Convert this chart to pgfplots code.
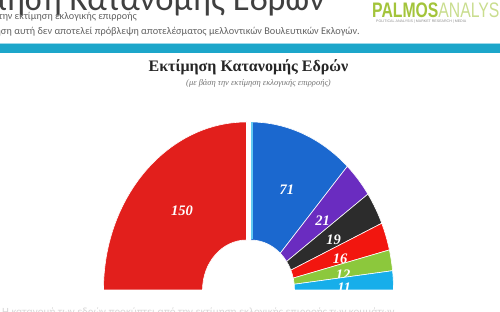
\documentclass[border=0pt]{standalone}
\usepackage{pgfplots}
\pgfplotsset{compat=1.18}
\usepackage{pgfplotstable}
\usepackage{graphicx}
\usepackage{fontspec}
\setmainfont{Liberation Serif}
\newfontfamily\hdr{Carlito}
\newfontfamily\logo{Liberation Sans}
\definecolor{c0}{HTML}{E21F1C}
\definecolor{c1}{HTML}{1B68CF}
\definecolor{c2}{HTML}{6A2CC0}
\definecolor{c3}{HTML}{2C2C2C}
\definecolor{c4}{HTML}{F2160F}
\definecolor{c5}{HTML}{8CC83C}
\definecolor{c6}{HTML}{17AEEA}
\definecolor{band}{HTML}{1CA6CA}
\definecolor{bandlight}{HTML}{9ED9EA}
\definecolor{logogreen}{HTML}{A3C43B}
\definecolor{logolight}{HTML}{C9DD8E}
\definecolor{edgecyan}{HTML}{62C9F2}
\pgfplotstableread{
seats
150
71
21
19
16
12
11
}\seattable
\begin{document}
\begin{tikzpicture}[x=1pt,y=1pt]
\useasboundingbox (0,0) rectangle (500,312);
\clip (0,0) rectangle (500,312);
% total seats
\def\total{0}
\pgfplotsforeachungrouped \i in {0,...,6}{%
  \pgfplotstablegetelem{\i}{seats}\of\seattable
  \pgfmathsetmacro\total{\total+\pgfplotsretval}%
}
\def\cum{0}
\pgfplotsforeachungrouped \i in {0,...,6}{%
  \pgfplotstablegetelem{\i}{seats}\of\seattable
  \let\v\pgfplotsretval
  \ifnum\i=0 \def\cx{246.5}\else\def\cx{250.5}\fi
  \pgfmathsetmacro\a{180-\cum/\total*180}%
  \pgfmathsetmacro\b{180-(\cum+\v)/\total*180}%
  \pgfmathsetmacro\m{(\a+\b)/2-1.5}%
  \pgfmathsetmacro\ox{\cx+143*cos(\a)}%
  \pgfmathsetmacro\oy{22+168*sin(\a)}%
  \pgfmathsetmacro\ix{\cx+44*cos(\b)}%
  \pgfmathsetmacro\iy{22+50*sin(\b)}%
  \pgfmathsetmacro\lx{\cx+0.655*143*cos(\m)}%
  \pgfmathsetmacro\ly{22+0.655*168*sin(\m)-1}%
  \expandafter\xdef\csname sa\i\endcsname{\a}%
  \expandafter\xdef\csname sb\i\endcsname{\b}%
  \expandafter\xdef\csname ox\i\endcsname{\ox}%
  \expandafter\xdef\csname oy\i\endcsname{\oy}%
  \expandafter\xdef\csname ix\i\endcsname{\ix}%
  \expandafter\xdef\csname iy\i\endcsname{\iy}%
  \expandafter\xdef\csname lx\i\endcsname{\lx}%
  \expandafter\xdef\csname ly\i\endcsname{\ly}%
  \expandafter\xdef\csname sv\i\endcsname{\v}%
  \pgfmathsetmacro\cum{\cum+\v}%
}
\begin{axis}[x=1pt,y=1pt,xmin=0,xmax=500,ymin=0,ymax=312,
  hide axis,clip=false,at={(0,0)},anchor=origin]
\pgfplotsinvokeforeach{0,...,6}{
  \filldraw[fill=c#1,draw=white,line width=0.6pt]
    (axis cs:\csname ox#1\endcsname,\csname oy#1\endcsname)
    arc[start angle=\csname sa#1\endcsname,end angle=\csname sb#1\endcsname,x radius=143,y radius=168]
    -- (axis cs:\csname ix#1\endcsname,\csname iy#1\endcsname)
    arc[start angle=\csname sb#1\endcsname,end angle=\csname sa#1\endcsname,x radius=44,y radius=50]
    -- cycle;
  \node[text=white,font=\bfseries\itshape\fontsize{14.5}{15}\selectfont]
    at (axis cs:\csname lx#1\endcsname,\csname ly#1\endcsname) {\csname sv#1\endcsname};
}
\draw[edgecyan,line width=1.6pt] (axis cs:251.7,72.5) -- (axis cs:251.7,189.5);
\end{axis}
% header
\node[anchor=base east,inner sep=0,font=\hdr\fontsize{34.5}{34.5}\selectfont,text=black!75] at (325,301) {Εκτίμηση Κατανομής Εδρών};
\node[anchor=base east,inner sep=0,font=\hdr\fontsize{10.2}{10.2}\selectfont,text=black!62] at (137,292) {Με βάση την εκτίμηση εκλογικής επιρροής};
\node[anchor=base east,inner sep=0,font=\hdr\fontsize{10.3}{10.3}\selectfont,text=black!62] at (360,277) {Η εκτίμηση αυτή δεν αποτελεί πρόβλεψη αποτελέσματος μελλοντικών Βουλευτικών Εκλογών.};
\fill[bandlight] (0,267) rectangle (500,269);
\fill[band] (0,259) rectangle (500,267.5);
% logo
\node[anchor=base west,inner sep=0] at (372,294) {\scalebox{0.75}[1]{\logo\fontsize{21}{21}\selectfont\bfseries\color{logogreen}PALMOS\mdseries\color{logolight}ANALYSIS}};
\node[anchor=base west,inner sep=0,font=\logo\fontsize{3.6}{4}\selectfont,text=black!45] at (376,289) {POLITICAL ANALYSIS \textbar{} MARKET RESEARCH \textbar{} MEDIA};
% chart title
\node[font=\bfseries\fontsize{16}{16}\selectfont,text=black!85] at (248.5,245) {Εκτίμηση Κατανομής Εδρών};
\node[font=\itshape\fontsize{8.5}{9}\selectfont,text=black!55] at (258.5,229) {(με βάση την εκτίμηση εκλογικής επιρροής)};
% faint bottom text
\node[anchor=base west,inner sep=0,font=\hdr\fontsize{11}{11}\selectfont,text=black!16] at (2,-4) {Η κατανομή των εδρών προκύπτει από την εκτίμηση εκλογικής επιρροής των κομμάτων};
\end{tikzpicture}
\end{document}
